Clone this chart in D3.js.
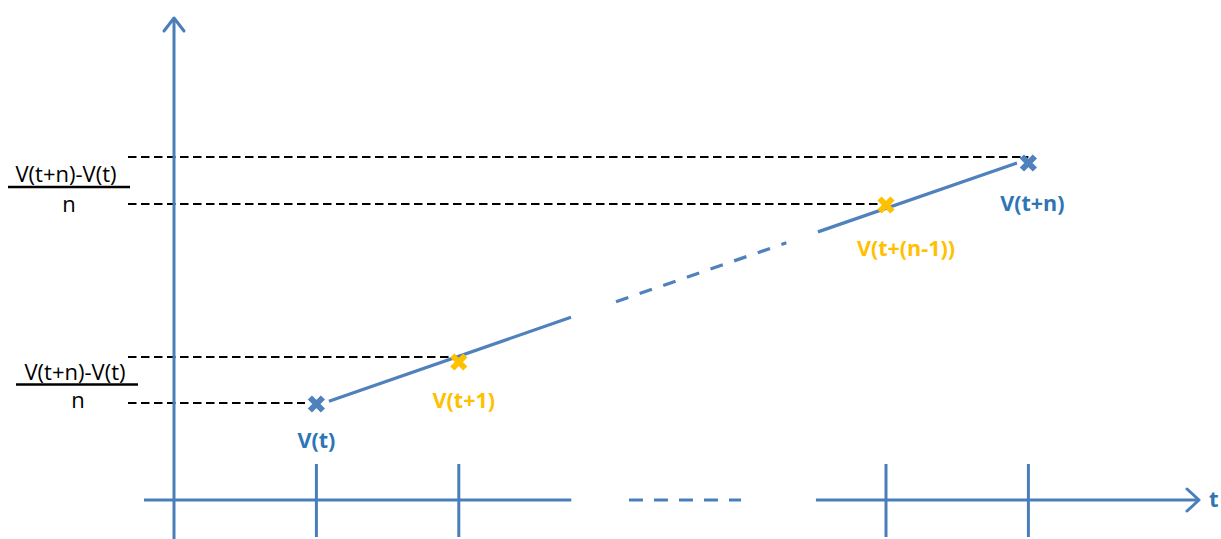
<!DOCTYPE html>
<html><head><meta charset="utf-8">
<script src="https://cdn.jsdelivr.net/npm/d3@7"></script>
<style>html,body{margin:0;padding:0;background:#fff;overflow:hidden}</style>
</head><body>
<svg id="chart" width="1221" height="539"></svg>
<script>
// ---- data ----
const pointLabels = ["V(t)", "V(t+1)", "V(t+(n-1))", "V(t+n)"];
const pointSteps  = [0, 1, 4, 5];            // position along time axis (t = 0)
const pointValues = [9.6, 13.8, 29.5, 33.7];  // V values
const pointKinds  = ["end", "mid", "mid", "end"];
const refLevels   = [9.7, 14.3, 29.6, 34.3];  // dashed guide levels
const refEnds     = [-0.08, 0.95, 3.95, 5.0]; // where each guide stops (steps)
const tickSteps   = [0, 1, 4, 5];
const axisLabel   = "t";
const fracNumer   = "V(t+n)-V(t)";
const fracDenom   = "n";
const trendStart  = 9.45, trendEnd = 34.1;   // trend line value at step 0 and step 5
const trendSegs   = [[0.088, 1.788, "solid"], [2.104, 3.30, "dash"], [3.522, 4.92, "solid"]];

// ---- layout ----
const W = 1221, H = 539;
const x = d3.scaleLinear().domain([-1, 5]).range([174, 1028.4]);
const y = d3.scaleLinear().domain([0, 50]).range([500, 0]);
const trend = d3.scaleLinear().domain([0, 5]).range([trendStart, trendEnd]);
const AX = "#4A7EBB", BLUE = "#4F81BD", TXTBLUE = "#2E75B6", ORANGE = "#FFC000";

const svg = d3.select("#chart");

// dashed guides
svg.append("g").selectAll("line").data(refLevels).join("line")
  .attr("x1", 128).attr("x2", (d, i) => x(refEnds[i]))
  .attr("y1", d => y(d)).attr("y2", d => y(d))
  .attr("stroke", "#000").attr("stroke-width", 1.8).attr("stroke-dasharray", "8.5,4.5");

// y axis
const yAxisG = svg.append("g");
yAxisG.append("line").attr("x1", x(-1)).attr("x2", x(-1)).attr("y1", H).attr("y2", 18)
  .attr("stroke", AX).attr("stroke-width", 3);
yAxisG.append("path").attr("d", `M${x(-1)-10},31 L${x(-1)},18 L${x(-1)+10},31`)
  .attr("fill", "none").attr("stroke", AX).attr("stroke-width", 3).attr("stroke-linecap", "round").attr("stroke-linejoin", "round");

// x axis
const xAxisG = svg.append("g");
const y0 = y(0);
xAxisG.append("line").attr("x1", 144).attr("x2", x(1.79)).attr("y1", y0).attr("y2", y0)
  .attr("stroke", AX).attr("stroke-width", 3);
xAxisG.append("line").attr("x1", x(2.195)).attr("x2", x(2.982)).attr("y1", y0).attr("y2", y0)
  .attr("stroke", AX).attr("stroke-width", 3).attr("stroke-dasharray", "14,11");
xAxisG.append("line").attr("x1", x(3.508)).attr("x2", 1199).attr("y1", y0).attr("y2", y0)
  .attr("stroke", AX).attr("stroke-width", 3);
xAxisG.append("path").attr("d", `M1187,${y0-11} L1199,${y0} L1187,${y0+11}`)
  .attr("fill", "none").attr("stroke", AX).attr("stroke-width", 3).attr("stroke-linecap", "round").attr("stroke-linejoin", "round");
xAxisG.selectAll("line.tick").data(tickSteps).join("line").attr("class", "tick")
  .attr("x1", d => x(d)).attr("x2", d => x(d)).attr("y1", y0 - 36).attr("y2", y0 + 37)
  .attr("stroke", AX).attr("stroke-width", 3);
xAxisG.append("text").attr("x", 1209).attr("y", 507).text(axisLabel)
  .attr("fill", TXTBLUE).attr("font-family", "Open Sans").attr("font-weight", "bold").attr("font-size", 22);

// trend line segments
svg.append("g").selectAll("line").data(trendSegs).join("line")
  .attr("x1", d => x(d[0])).attr("y1", d => y(trend(d[0])))
  .attr("x2", d => x(d[1])).attr("y2", d => y(trend(d[1])))
  .attr("stroke", BLUE).attr("stroke-width", 3.2)
  .attr("stroke-dasharray", d => d[2] === "dash" ? "13,12" : null);

// markers
const mk = svg.append("g").selectAll("g").data(pointValues).join("g")
  .attr("transform", (d, i) => `translate(${x(pointSteps[i])},${y(d)})`);
mk.append("path").attr("d", "M-6.5,-6.5 L6.5,6.5 M-6.5,6.5 L6.5,-6.5")
  .attr("stroke", (d, i) => pointKinds[i] === "end" ? BLUE : ORANGE)
  .attr("stroke-width", 6);

// point labels
const labOff = [[0, 44], [5, 46], [20, 51], [4, 48]];
svg.append("g").selectAll("text").data(pointLabels).join("text")
  .attr("x", (d, i) => x(pointSteps[i]) + labOff[i][0])
  .attr("y", (d, i) => y(pointValues[i]) + labOff[i][1])
  .attr("text-anchor", "middle")
  .attr("font-family", "Open Sans").attr("font-weight", "bold").attr("font-size", 21.5)
  .attr("fill", (d, i) => pointKinds[i] === "end" ? TXTBLUE : ORANGE)
  .text(d => d);

// fraction labels
const fracs = [
  {cx: 66, num: 182, bar: 187, den: 212, x1: 8, x2: 130},
  {cx: 75, num: 380, bar: 384.5, den: 408, x1: 16, x2: 138}
];
const fg = svg.append("g").selectAll("g").data(fracs).join("g");
fg.append("text").attr("x", d => d.cx).attr("y", d => d.num).attr("text-anchor", "middle")
  .attr("font-family", "Open Sans").attr("font-size", 22).attr("fill", "#000").text(fracNumer);
fg.append("line").attr("x1", d => d.x1).attr("x2", d => d.x2).attr("y1", d => d.bar).attr("y2", d => d.bar)
  .attr("stroke", "#000").attr("stroke-width", 2.4);
fg.append("text").attr("x", d => d.cx + 3).attr("y", d => d.den).attr("text-anchor", "middle")
  .attr("font-family", "Open Sans").attr("font-size", 22).attr("fill", "#000").text(fracDenom);
</script>
</body></html>
